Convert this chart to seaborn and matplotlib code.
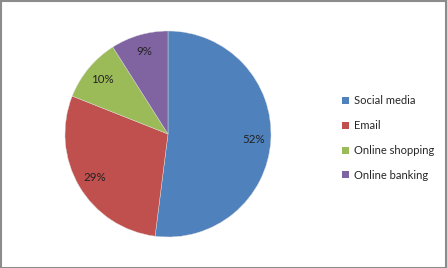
import matplotlib
matplotlib.use("Agg")
import matplotlib.pyplot as plt
from matplotlib.patches import Rectangle, Patch
import seaborn as sns

categories = ["Social media", "Email", "Online shopping", "Online banking"]
values = [52, 29, 10, 9]
colors = ["#4F81BD", "#C0504D", "#9BBB59", "#8064A2"]

sns.set_theme(style="white")
plt.rcParams["font.family"] = ["Lato", "DejaVu Sans"]

W, H = 447, 268
fig = plt.figure(figsize=(W / 100, H / 100), dpi=100)
fig.patch.set_facecolor("white")

cx, cy, r = 168, 134, 103
ax = fig.add_axes([(cx - r) / W, (H - cy - r) / H, 2 * r / W, 2 * r / H])
wedges, texts, autotexts = ax.pie(
    values, colors=sns.color_palette(colors), startangle=90, counterclock=False,
    autopct=lambda p: f"{p:.0f}%", pctdistance=0.83,
    wedgeprops=dict(linewidth=0.3, edgecolor="#dddddd"),
    textprops=dict(fontsize=8.3, color="#222222"))
ax.set_xlim(-1, 1)
ax.set_ylim(-1, 1)
ax.set_aspect("equal")
ax.axis("off")

handles = [Patch(facecolor=c, edgecolor="none") for c in colors]
fig.legend(handles, categories, loc="center left",
           bbox_to_anchor=(338 / W, (H - 138) / H), frameon=False,
           fontsize=8, handlelength=0.6, handleheight=0.6, handletextpad=0.4,
           labelspacing=1.25, borderaxespad=0)

fig.add_artist(Rectangle((0.5 / W, 0.5 / H), 1 - 1.5 / W, 1 - 1.5 / H,
                         transform=fig.transFigure, fill=False,
                         edgecolor="#8c8c8c", linewidth=1.5))

fig.savefig("out.png", dpi=100)
